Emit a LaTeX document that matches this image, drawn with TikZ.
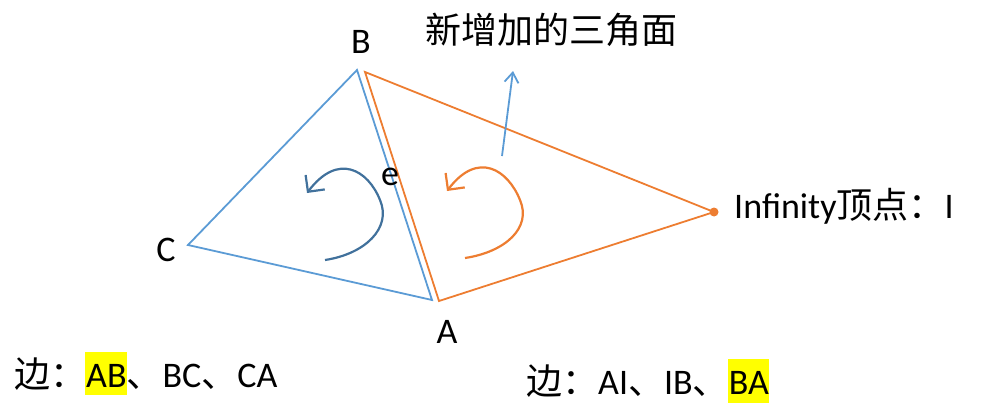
\documentclass[tikz,border=0pt]{standalone}
\usepackage{fontspec}
\setmainfont{Carlito}
\newfontfamily\cjk{Noto Sans CJK SC}
\usetikzlibrary{arrows.meta}
\definecolor{eblue}{HTML}{5B9BD5}
\definecolor{eorange}{HTML}{ED7D31}
\definecolor{edark}{HTML}{41719C}
\definecolor{hl}{HTML}{FFFF00}
\tikzset{
  lbl/.style={font=\fontsize{36}{40}\selectfont, inner sep=0pt, anchor=base},
  cjklbl/.style={font=\fontsize{36}{40}\selectfont\cjk, inner sep=0pt},
  turn/.style={line width=2.2pt, -{Straight Barb[length=12pt,width=24pt]}},
}
\begin{document}
\begin{tikzpicture}[x=1pt,y=-1pt]
\useasboundingbox (0,0) rectangle (995,412);
% highlights
\fill[hl] (85,352) rectangle (127,395);
\fill[hl] (728,359) rectangle (769,403);
% vertices
\coordinate (B) at (357,70);
\coordinate (C) at (188,245);
\coordinate (A) at (432,300);
\coordinate (B2) at (365,72);
\coordinate (A2) at (439,301);
\coordinate (I) at (714,212);
% triangles
\draw[draw=eblue, line width=1.8pt] (B) -- (C) -- (A) -- cycle;
\draw[draw=eorange, line width=1.8pt] (B2) -- (A2) -- (I) -- cycle;
\fill[eorange] (I) circle (4.5);
% normal arrow
\coordinate (n0) at (502,156);
\coordinate (n1) at (513,71);
\draw[draw=eblue, line width=1.8pt, -{Straight Barb[length=10pt,width=14pt]}] (n0) -- (n1);
% turning arrows
\coordinate (b0) at (325,260);
\coordinate (b1) at (380,200);
\coordinate (b2) at (307,193);
\draw[edark, turn] (b0) .. controls (365,254) and (392,228) .. (b1) .. controls (368,170) and (338,152) .. (b2);
\coordinate (o0) at (465,258);
\coordinate (o1) at (520,200);
\coordinate (o2) at (447,191);
\draw[eorange, turn] (o0) .. controls (505,252) and (532,228) .. (o1) .. controls (508,170) and (478,150) .. (o2);
% labels
\node[lbl] (lB) at (361,53) {B};
\node[lbl] (lC) at (166,261) {C};
\node[lbl] (lA) at (447,343) {A};
\node[lbl] (le) at (390,185) {e};
\node[cjklbl] (title) at (551,30) {新增加的三角面};
\node[lbl, anchor=base west] (inf) at (734,218) {Infinity{\cjk 顶点：}I};
\node[lbl, anchor=base west] (e1) at (14,387) {{\cjk 边：}AB{\cjk 、}BC{\cjk 、}CA};
\node[lbl, anchor=base west] (e2) at (526,394) {{\cjk 边：}AI{\cjk 、}IB{\cjk 、}BA};
\end{tikzpicture}
\end{document}
